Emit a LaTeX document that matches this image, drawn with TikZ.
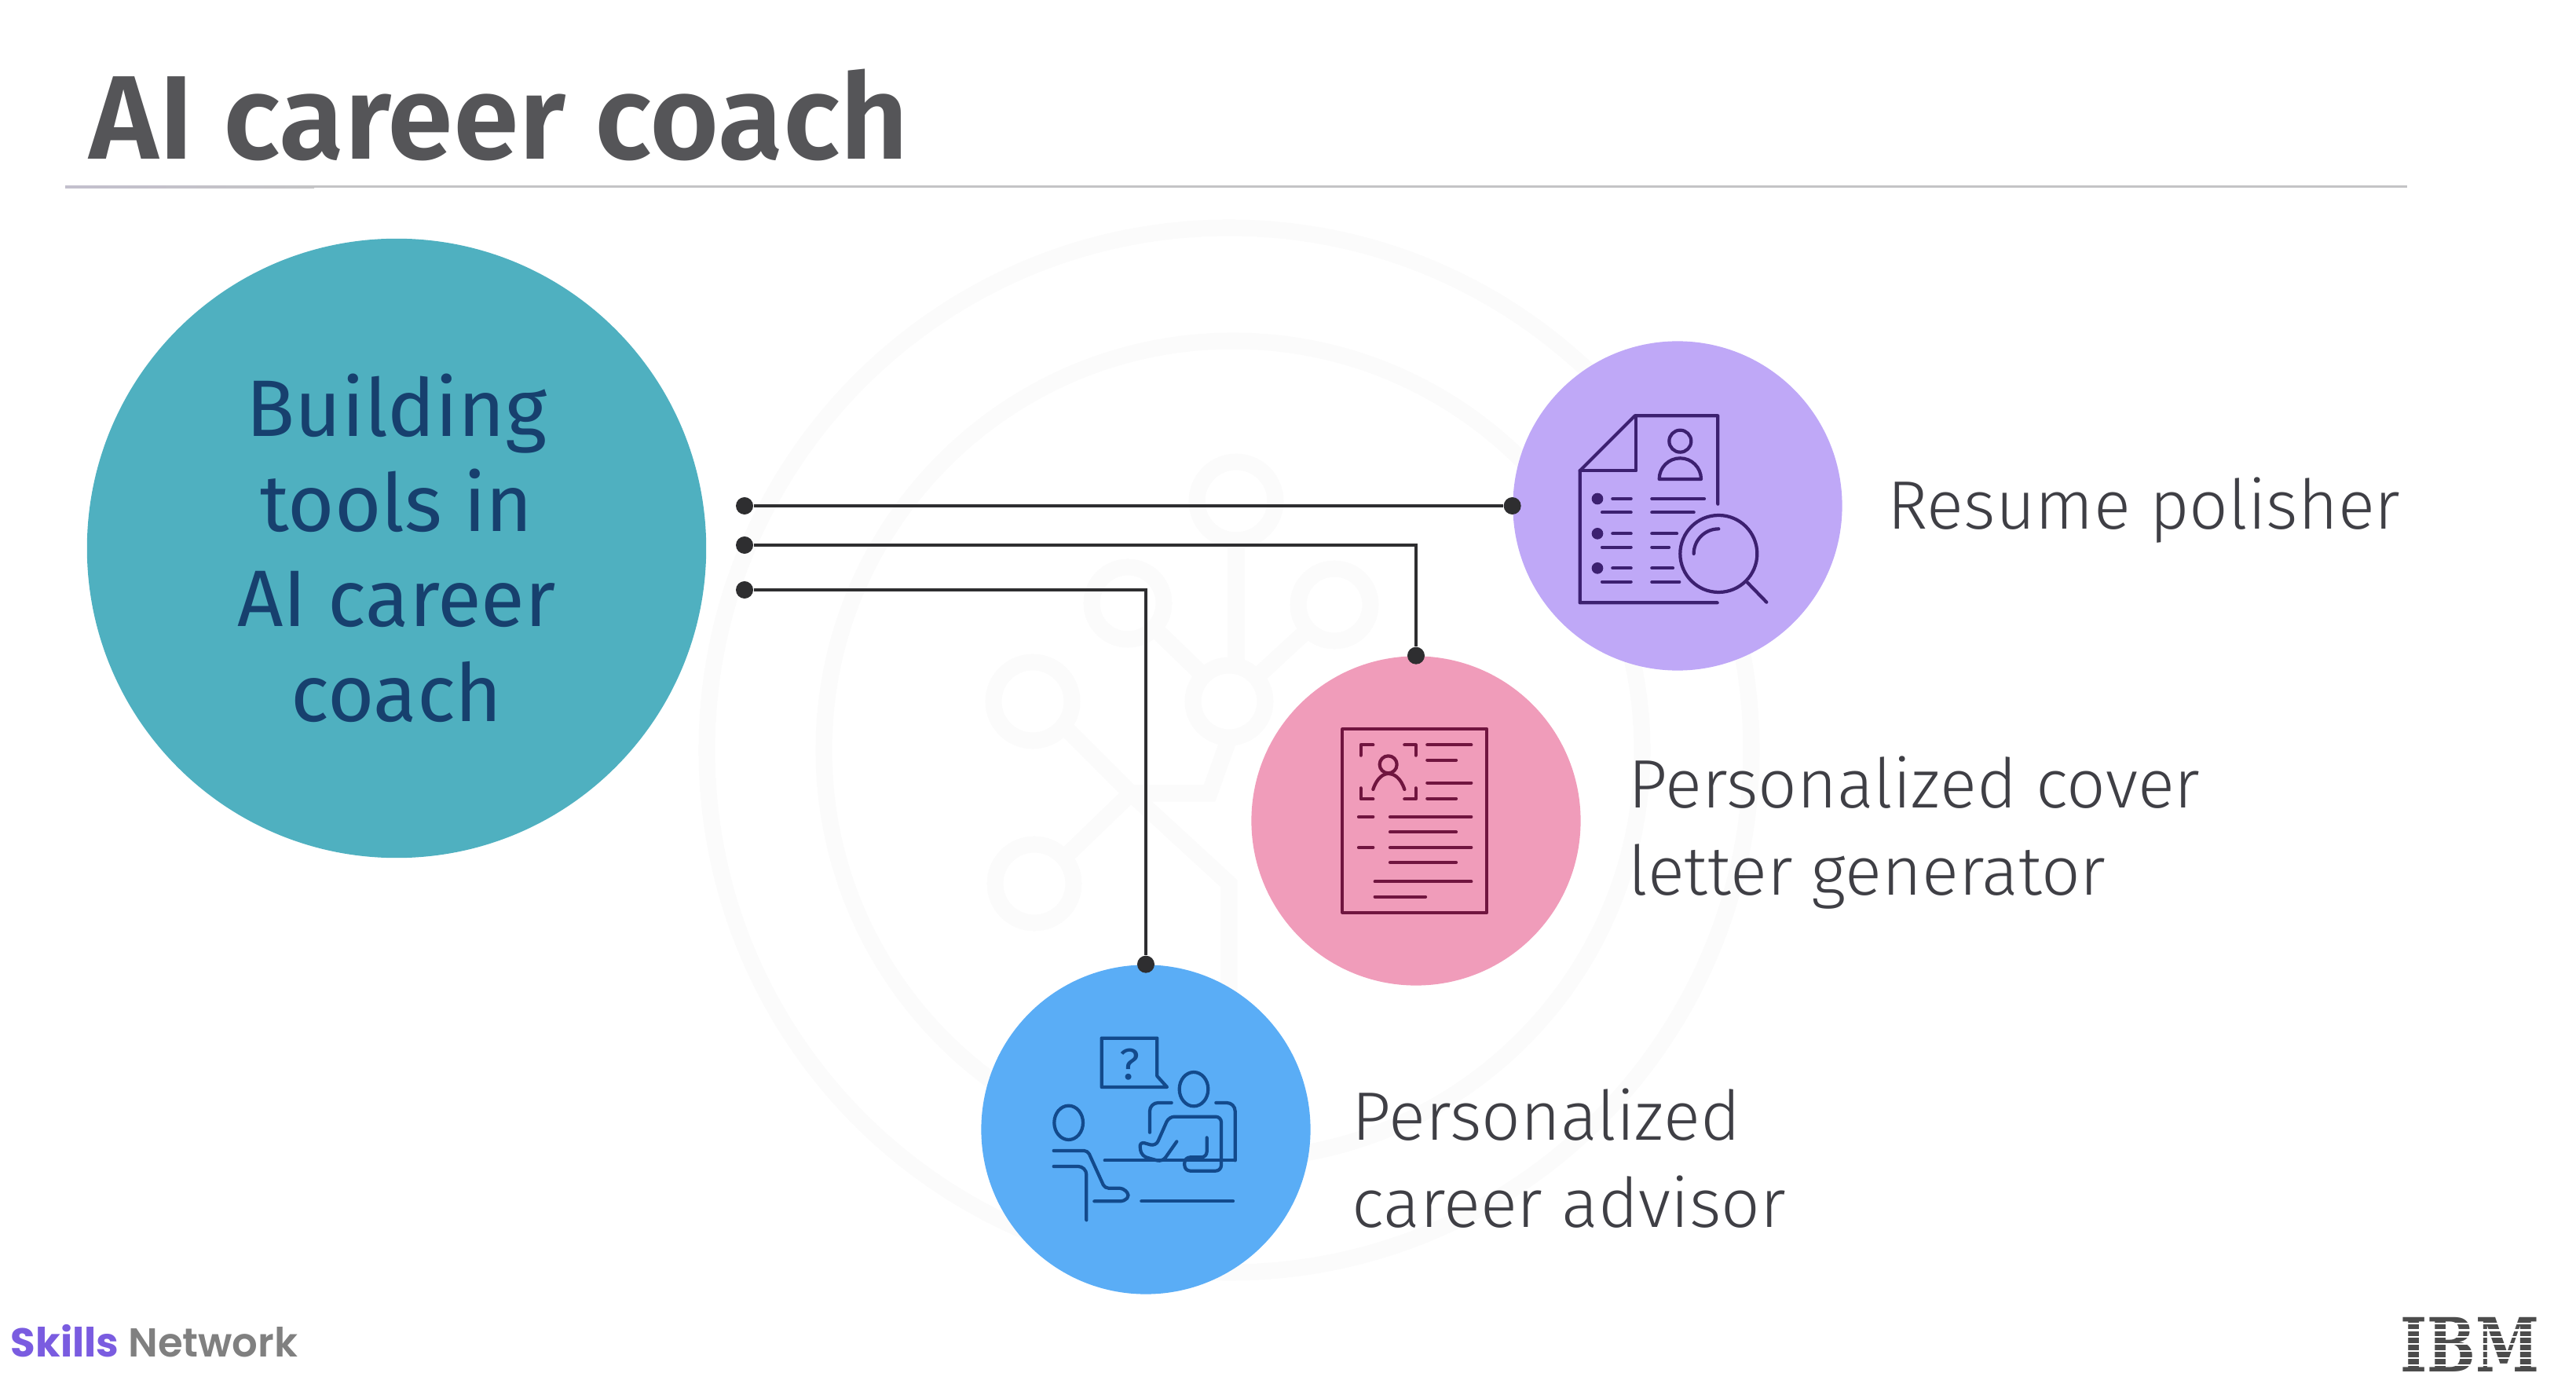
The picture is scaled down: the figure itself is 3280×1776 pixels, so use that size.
\documentclass[tikz,border=0pt]{standalone}
\usepackage{fontspec}
\setmainfont{Fira Sans}[UprightFont=* Light, BoldFont=* SemiBold]
\newfontfamily\hubfont{Fira Sans}
\newfontfamily\brandfont{Poppins}[UprightFont=* SemiBold, BoldFont=* Bold]
\newfontfamily\logofont{DejaVu Serif}
\definecolor{tealhub}{HTML}{4FB0C0}
\definecolor{lilac}{HTML}{BFA8F7}
\definecolor{rosepink}{HTML}{F09CBA}
\definecolor{skyblue}{HTML}{5AADF6}
\definecolor{lilacink}{HTML}{3C2070}
\definecolor{roseink}{HTML}{70153F}
\definecolor{skyink}{HTML}{134A8C}
\definecolor{hubink}{HTML}{17406E}
\definecolor{labelink}{HTML}{3F3F45}
\definecolor{titleink}{HTML}{555558}
\definecolor{wireink}{HTML}{2E2E30}
\definecolor{ghostink}{HTML}{FBFBFB}
\definecolor{skillsink}{HTML}{7A5CE0}
\definecolor{netink}{HTML}{808080}
\definecolor{ruleink}{HTML}{C4C4C6}
\tikzstyle{hub} = [
    circle,
    inner sep=0pt,
    minimum size=7.88cm,
    fill=tealhub,
    text=hubink,
    align=center,
    font=\hubfont\fontsize{29}{34.4}\selectfont
]
\tikzstyle{tool} = [
    circle,
    inner sep=0pt,
    minimum size=4.19cm
]
\tikzstyle{label} = [
    anchor=base west,
    inner sep=0pt,
    align=left,
    text=labelink,
    font=\fontsize{24.8}{31.3}\selectfont
]
\tikzstyle{dot} = [
    circle,
    inner sep=0pt,
    minimum size=0.22cm,
    fill=wireink
]
\tikzstyle{wire} = [line width=1.4pt, draw=wireink]
\tikzstyle{ghost} = [line width=6pt, draw=ghostink]
\tikzstyle{icon} = [line width=1.2pt, line cap=round, line join=round]

\begin{document}
\begin{tikzpicture}[x=0.01cm, y=-0.01cm]

\useasboundingbox (0,0) rectangle (3280,1776);

\draw [ghost] (1565,955) circle (665);
\draw [ghost] (1570,955) circle (521);
\foreach \px/\py/\pr in {1574/638/50, 1436/768/46, 1699/770/46, 1315/893/50, 1565/893/46, 1317/1125/50}
    \draw [ghost] (\px,\py) circle (\pr);
\draw [ghost] (1574,688) -- (1574,847);
\draw [ghost] (1470,800) -- (1532,860);
\draw [ghost] (1665,802) -- (1600,862);
\draw [ghost] (1355,925) -- (1440,1010) -- (1355,1092);
\draw [ghost] (1440,1010) -- (1540,1010) -- (1565,940);
\draw [ghost] (1440,1010) -- (1565,1125) -- (1565,1400);

\node (title) [anchor=base west, inner sep=0pt, text=titleink, font=\fontsize{43.1}{50}\selectfont\bfseries] at (113,203) {AI career coach};

\shade [left color=ruleink!85!lilac, right color=ruleink, draw=none] (83,236.5) rectangle (400,239.5);
\fill [ruleink] (400,236.5) rectangle (3065,239.5);

\node (hubCoach) [hub] at (505,698) {Building\\tools in\\AI career\\coach};

\node (toolResume) [tool, fill=lilac] at (2136,644) {};

\node (toolCover) [tool, fill=rosepink] at (1803,1045) {};

\node (toolAdvisor) [tool, fill=skyblue] at (1459,1438) {};

\node (labelResume) [label] at (2403,674) {Resume polisher};

\node (labelCover) [label] at (2073,1139) {Personalized cover\\letter generator};

\node (labelAdvisor) [label] at (1721,1562) {Personalized\\career advisor};

\node (portResume) [dot] at (948,644) {};

\node (portCover) [dot] at (948,694) {};

\node (portAdvisor) [dot] at (948,751) {};

\node (endResume) [dot] at (toolResume.west) {};

\node (endCover) [dot] at (toolCover.north) {};

\node (endAdvisor) [dot] at (toolAdvisor.north) {};

\draw [wire] (portResume) -- (endResume);
\draw [wire] (portCover) -| (endCover);
\draw [wire] (portAdvisor) -| (endAdvisor);

\begin{scope}[shift={(1900,420)}, scale=1/3, draw=lilacink]
\draw [icon] (860,1042) -- (335,1042) -- (335,538) -- (545,328) -- (862,328) -- (862,665);
\draw [icon] (335,538) -- (550,538) -- (550,328);
\draw [icon] (718,425) circle (42);
\draw [icon] (638,570) arc (180:360:80) -- cycle;
\foreach \ly in {645,778,910} {
    \fill [lilacink] (402,\ly) circle (22);
    \draw [icon] (460,\ly) -- (530,\ly);
    \draw [icon] (420,\ly+52) -- (530,\ly+52);
}
\foreach \lx/\ly in {810/645, 770/697, 705/778, 675/830, 690/910, 715/963}
    \draw [icon] (610,\ly) -- (\lx,\ly);
\draw [icon] (865,855) circle (147);
\draw [icon] (770,855) arc (180:270:95);
\draw [icon] (975,965) -- (1048,1040);
\end{scope}

\begin{scope}[shift={(1580,830)}, scale=1/3, draw=roseink]
\draw [icon] (388,295) rectangle (940,995);
\draw [icon] (458,395) -- (458,355) -- (505,355);
\draw [icon] (625,355) -- (668,355) -- (668,395);
\draw [icon] (458,520) -- (458,562) -- (505,562);
\draw [icon] (625,562) -- (668,562) -- (668,520);
\draw [icon] (563,430) circle (33);
\draw [icon] (505,525) .. controls (520,480) and (545,465) .. (563,465) .. controls (585,465) and (610,480) .. (625,525);
\foreach \lfrom/\lto/\ly in {712/880/355, 712/822/413, 712/880/500, 712/822/560, 450/505/630, 570/880/630, 570/822/688, 450/505/747, 570/880/747, 570/822/804, 512/880/877, 512/705/935}
    \draw [icon] (\lfrom,\ly) -- (\lto,\ly);
\end{scope}

\begin{scope}[shift={(1240,1220)}, scale=1/3, draw=skyink]
\draw [icon] (488,305) -- (700,305) -- (700,450) -- (738,492) -- (488,492) -- cycle;
\node (helpMark) [text=skyink, inner sep=0pt, font=\hubfont\fontsize{16}{16}\selectfont] at (595,405) {?};
\draw [icon] (840,500) ellipse (55 and 65);
\draw [icon, rounded corners=3pt] (672,665) -- (672,552) -- (755,552);
\draw [icon, rounded corners=3pt] (925,552) -- (998,552) -- (998,772);
\draw [icon] (998,772) -- (500,772);
\draw [icon, rounded corners=2pt] (890,685) -- (890,760) -- (805,760) -- (805,812) -- (945,812) -- (945,605) -- (745,605) -- (695,718) -- (632,700) -- (640,755) -- (720,778) -- (775,700);
\draw [icon] (362,628) ellipse (55 and 65);
\draw [icon, rounded corners=1.3pt] (305,735) -- (435,735) -- (500,878) -- (570,878) -- (595,905) -- (575,928) -- (460,928);
\draw [icon, rounded corners=3pt] (305,795) -- (430,795) -- (430,1000);
\draw [icon] (640,928) -- (990,928);
\end{scope}

\node (brandSkills) [anchor=base west, inner sep=0pt, font=\fontsize{14.6}{16}\brandfont] at (13,1727) {\textcolor{skillsink}{\bfseries Skills} \textcolor{netink}{Network}};

\node (logoIbm) [inner sep=0pt, text=black!70, font=\logofont\bfseries\fontsize{27}{27}\selectfont] at (3145,1711.5) {\scalebox{0.77}[1]{IBM}};
\foreach \gy in {1685,1693.5,1702,1711,1720,1729,1738}
    \fill [white] (3040,\gy-1.4) rectangle (3250,\gy+1.4);

\end{tikzpicture}
\end{document}
